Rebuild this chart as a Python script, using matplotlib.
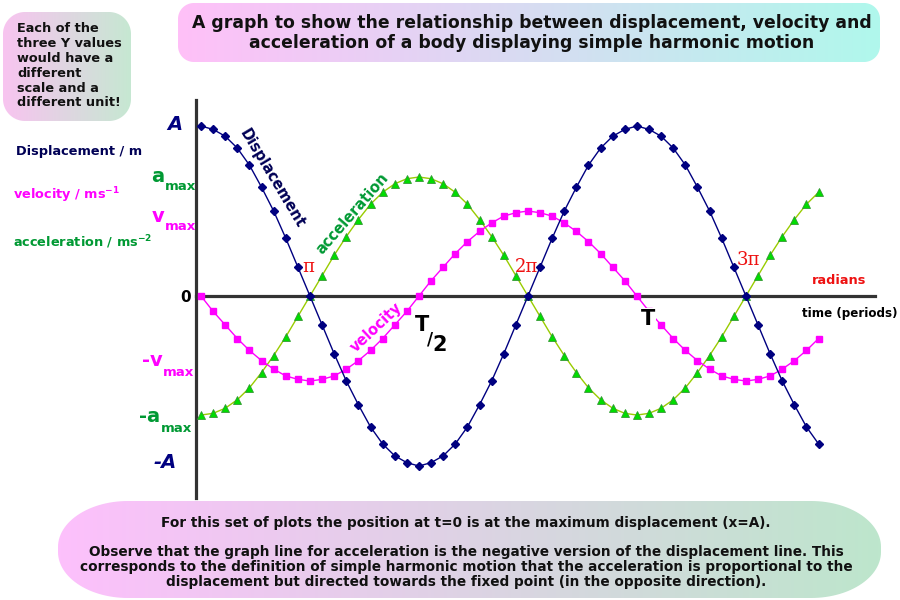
import numpy as np
import matplotlib
matplotlib.use('Agg')
import matplotlib.pyplot as plt
from matplotlib.path import Path
from matplotlib.patches import PathPatch
from matplotlib.colors import LinearSegmentedColormap

# ---------------- data ----------------
# phase angle in degrees (one marker every 10 degrees)
angle_deg = list(range(0, 520, 10))

# displacement in units of A
displacement = [1.00, 0.98, 0.94, 0.87, 0.77, 0.64, 0.50, 0.34, 0.17, 0.00,
                -0.17, -0.34, -0.50, -0.64, -0.77, -0.87, -0.94, -0.98, -1.00,
                -0.98, -0.94, -0.87, -0.77, -0.64, -0.50, -0.34, -0.17, 0.00,
                0.17, 0.34, 0.50, 0.64, 0.77, 0.87, 0.94, 0.98, 1.00,
                0.98, 0.94, 0.87, 0.77, 0.64, 0.50, 0.34, 0.17, 0.00,
                -0.17, -0.34, -0.50, -0.64, -0.77, -0.87]

# velocity (plotted with vmax = 0.5 A on the shared drawing scale)
velocity = [0.00, -0.09, -0.17, -0.25, -0.32, -0.38, -0.43, -0.47, -0.49, -0.50,
            -0.49, -0.47, -0.43, -0.38, -0.32, -0.25, -0.17, -0.09, 0.00,
            0.09, 0.17, 0.25, 0.32, 0.38, 0.43, 0.47, 0.49, 0.50,
            0.49, 0.47, 0.43, 0.38, 0.32, 0.25, 0.17, 0.09, 0.00,
            -0.09, -0.17, -0.25, -0.32, -0.38, -0.43, -0.47, -0.49, -0.50,
            -0.49, -0.47, -0.43, -0.38, -0.32, -0.25]

# acceleration (plotted with amax = 0.7 A on the shared drawing scale)
acceleration = [-0.70, -0.69, -0.66, -0.61, -0.54, -0.45, -0.35, -0.24, -0.12, 0.00,
                0.12, 0.24, 0.35, 0.45, 0.54, 0.61, 0.66, 0.69, 0.70,
                0.69, 0.66, 0.61, 0.54, 0.45, 0.35, 0.24, 0.12, 0.00,
                -0.12, -0.24, -0.35, -0.45, -0.54, -0.61, -0.66, -0.69, -0.70,
                -0.69, -0.66, -0.61, -0.54, -0.45, -0.35, -0.24, -0.12, 0.00,
                0.12, 0.24, 0.35, 0.45, 0.54, 0.61]

title_text = ("A graph to show the relationship between displacement, velocity and\n"
              "acceleration of a body displaying simple harmonic motion")
note_text = "Each of the\nthree Y values\nwould have a\ndifferent\nscale and a\ndifferent unit!"
bottom_lines = [
    "For this set of plots the position at t=0 is at the maximum displacement (x=A).",
    "Observe that the graph line for acceleration is the negative version of the displacement line. This",
    "corresponds to the definition of simple harmonic motion that the acceleration is proportional to the",
    "displacement but directed towards the fixed point (in the opposite direction).",
]
bottom_y = [523, 552, 567, 582]

NAVY = '#000080'
MAG = '#ff00ff'
GREEN_T = '#009933'
FONT = 'DejaVu Sans'

fig = plt.figure(figsize=(9, 6), dpi=100)
fig.patch.set_facecolor('white')

# overlay in pixel coordinates for boxes and annotations
ov = fig.add_axes([0, 0, 1, 1])
ov.set_xlim(0, 900)
ov.set_ylim(600, 0)
ov.axis('off')


def rrect(x0, y0, x1, y1, rx, ry, n=30):
    pts = []
    specs = [((x1 - rx, y0 + ry), -90, 0), ((x1 - rx, y1 - ry), 0, 90),
             ((x0 + rx, y1 - ry), 90, 180), ((x0 + rx, y0 + ry), 180, 270)]
    for (cx, cy), a0, a1 in specs:
        t = np.radians(np.linspace(a0, a1, n))
        pts.extend(zip(cx + rx * np.cos(t), cy + ry * np.sin(t)))
    pts.append(pts[0])
    codes = [Path.MOVETO] + [Path.LINETO] * (len(pts) - 2) + [Path.CLOSEPOLY]
    return Path(pts, codes)


def grad_box(x0, y0, x1, y1, rx, ry, c0, c1):
    path = rrect(x0, y0, x1, y1, rx, ry)
    patch = PathPatch(path, facecolor='none', edgecolor='none', transform=ov.transData)
    ov.add_patch(patch)
    cmap = LinearSegmentedColormap.from_list('g', [c0, c1])
    g = np.linspace(0, 1, 256).reshape(1, -1)
    im = ov.imshow(g, cmap=cmap, extent=[x0, x1, y1, y0], aspect='auto', zorder=0)
    im.set_clip_path(patch)


grad_box(178, 3, 880, 62, 16, 16, '#ffc0f8', '#b0f8ec')
grad_box(3, 12, 131, 121, 22, 22, '#f8c4f0', '#c6e8d2')
grad_box(58, 501, 881, 598, 70, 46, '#fdc0fc', '#bde6cc')
ov.set_xlim(0, 900)
ov.set_ylim(600, 0)

ov.text(532, 33, title_text, ha='center', va='center', fontsize=12.4,
        fontweight='bold', family=FONT, color='#111111', linespacing=1.12)
ov.text(17, 66, note_text, ha='left', va='center', fontsize=9.3,
        fontweight='bold', family=FONT, color='#111111', linespacing=1.18)
for txt, y in zip(bottom_lines, bottom_y):
    ov.text(466, y, txt, ha='center', va='center', fontsize=9.85,
            fontweight='bold', family=FONT, color='#111111')

# axis unit labels on the left
ov.text(16, 152, "Displacement / m", ha='left', va='center', fontsize=9.3,
        fontweight='bold', family=FONT, color='#000055')
ov.text(13, 195, r"velocity / ms$^{\mathbf{-1}}$", ha='left', va='center', fontsize=9.3,
        fontweight='bold', family=FONT, color=MAG)
ov.text(13, 242, r"acceleration / ms$^{\mathbf{-2}}$", ha='left', va='center', fontsize=9.3,
        fontweight='bold', family=FONT, color=GREEN_T)

# y value labels
ov.text(175, 124, "A", ha='center', va='center', fontsize=14, fontweight='bold',
        style='italic', family=FONT, color=NAVY)
ov.text(158, 176, "a", ha='center', va='center', fontsize=14, fontweight='bold',
        family=FONT, color=GREEN_T)
ov.text(180, 187, "max", ha='center', va='center', fontsize=9.5, fontweight='bold',
        family=FONT, color=GREEN_T)
ov.text(158, 216, "v", ha='center', va='center', fontsize=14, fontweight='bold',
        family=FONT, color=MAG)
ov.text(180, 227, "max", ha='center', va='center', fontsize=9.5, fontweight='bold',
        family=FONT, color=MAG)
ov.text(186, 297, "0", ha='center', va='center', fontsize=11, fontweight='bold',
        family=FONT, color='black')
ov.text(152, 361, "-v", ha='center', va='center', fontsize=14, fontweight='bold',
        family=FONT, color=MAG)
ov.text(178, 372, "max", ha='center', va='center', fontsize=9.5, fontweight='bold',
        family=FONT, color=MAG)
ov.text(150, 417, "-a", ha='center', va='center', fontsize=14, fontweight='bold',
        family=FONT, color=GREEN_T)
ov.text(177, 429, "max", ha='center', va='center', fontsize=9.5, fontweight='bold',
        family=FONT, color=GREEN_T)
ov.text(165, 463, "-A", ha='center', va='center', fontsize=14, fontweight='bold',
        style='italic', family=FONT, color=NAVY)

# radians labels
for txt, x, y in [("π", 308, 267), ("2π", 526, 267), ("3π", 748, 260)]:
    ov.text(x, y, txt, ha='center', va='center', fontsize=13, family='DejaVu Serif',
            color='#ee1111')
ov.text(839, 280, "radians", ha='center', va='center', fontsize=9.3, fontweight='bold',
        family=FONT, color='#ee1111')
ov.text(897, 313, "time (periods)", ha='right', va='center', fontsize=8.6,
        fontweight='bold', family=FONT, color='black')

# rotated series labels
ov.text(272, 178, "Displacement", ha='center', va='center', rotation=-59,
        fontsize=10.5, fontweight='bold', family=FONT, color='#000055',
        rotation_mode='anchor')
ov.text(352, 214, "acceleration", ha='center', va='center', rotation=49,
        fontsize=10.5, fontweight='bold', family=FONT, color=GREEN_T,
        rotation_mode='anchor')
ov.text(376, 327, "velocity", ha='center', va='center', rotation=43,
        fontsize=10.5, fontweight='bold', family=FONT, color=MAG,
        rotation_mode='anchor')

# ---------------- main plot ----------------
ax = fig.add_axes([196 / 900, 1 - 498 / 600, (875 - 196) / 900, (498 - 100) / 600])
ax.set_facecolor('none')
ax.set_xlim(-4.13, 556.6)
ax.set_ylim(-1.188, 1.153)
for s in ['top', 'right']:
    ax.spines[s].set_visible(False)
ax.spines['bottom'].set_position(('data', 0))
for s in ['left', 'bottom']:
    ax.spines[s].set_color('#333333')
    ax.spines[s].set_linewidth(2.3)
ax.set_xticks([])
ax.set_yticks([])

ax.plot(angle_deg, acceleration, color='#99cc00', lw=1, marker='^', ms=5.2,
        mfc='#00dd00', mec='#339933', mew=0.6, zorder=3)
ax.plot(angle_deg, velocity, color=MAG, lw=1, marker='s', ms=4.6,
        mfc=MAG, mec=MAG, zorder=3)
ax.plot(angle_deg, displacement, color=NAVY, lw=1, marker='D', ms=3.6,
        mfc=NAVY, mec=NAVY, zorder=4)

# period labels (drawn above the curves, with a white backing like the original)
for txt, x, y, fs in [("T", 422, 325, 15), ("/", 430, 339, 12), ("2", 440, 345, 15)]:
    ax.text(x, y, txt, ha='center', va='center', fontsize=fs, fontweight='bold',
            family=FONT, color='black', transform=ov.transData, zorder=6)
ax.text(648, 319, "T", ha='center', va='center', fontsize=15, fontweight='bold',
        family=FONT, color='black', transform=ov.transData, zorder=6,
        bbox=dict(boxstyle='square,pad=0.05', facecolor='white', edgecolor='none'))

fig.savefig('out.png', dpi=100)
